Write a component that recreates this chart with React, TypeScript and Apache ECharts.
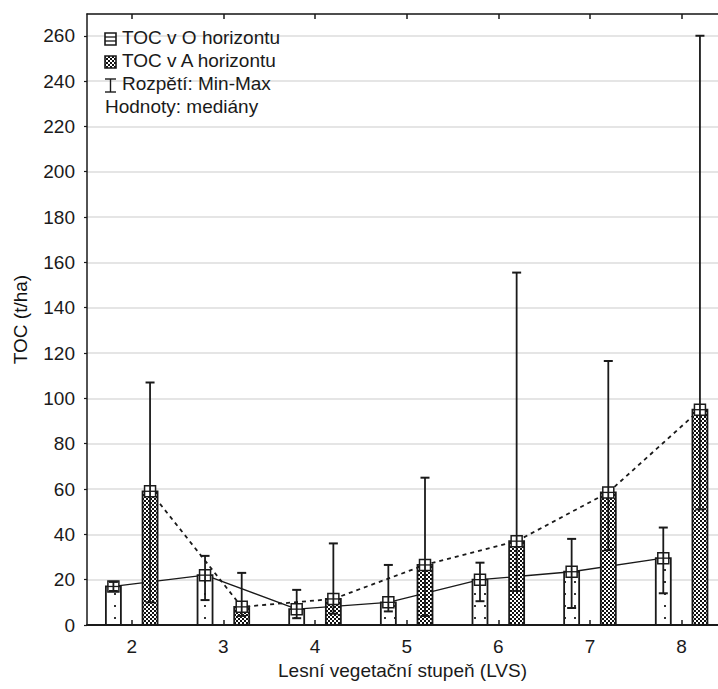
import React, { useEffect, useRef } from "react";
import * as echarts from "echarts";

// ---- data ----
const categories = [2, 3, 4, 5, 6, 7, 8];
const oMedian = [17, 22, 7, 10, 20, 23.5, 29.5];
const oMin = [15, 11, 3, 6, 10.5, 7.5, 14];
const oMax = [19, 30.5, 15.5, 26.5, 27.5, 38, 43];
const aMedian = [59, 8, 11.5, 26.5, 37, 58.5, 95];
const aMin = [10, 4, 5, 4, 15, 33, 51];
const aMax = [107, 23, 36, 65, 155.5, 116.5, 260];

const legendLabels = ["TOC v O horizontu", "TOC v A horizontu", "Rozpětí: Min-Max", "Hodnoty: mediány"];
const xTitle = "Lesní vegetační stupeň (LVS)";
const yTitle = "TOC (t/ha)";

const FONT = "'Liberation Sans', Arial, sans-serif";
const INK = "#1a1a1a";
const OFFSET = 0.2;

function makeChecker(): HTMLCanvasElement {
  const c = document.createElement("canvas");
  c.width = 4;
  c.height = 4;
  const ctx = c.getContext("2d")!;
  ctx.fillStyle = "#ffffff";
  ctx.fillRect(0, 0, 4, 4);
  ctx.fillStyle = "#111111";
  ctx.fillRect(0, 0, 2, 2);
  ctx.fillRect(2, 2, 2, 2);
  return c;
}

function makeDots(): HTMLCanvasElement {
  const c = document.createElement("canvas");
  c.width = 10;
  c.height = 12;
  const ctx = c.getContext("2d")!;
  ctx.fillStyle = "#ffffff";
  ctx.fillRect(0, 0, 10, 12);
  ctx.fillStyle = "#333333";
  ctx.fillRect(4, 5, 2, 2);
  return c;
}

export default function App() {
  const ref = useRef<HTMLDivElement>(null);

  useEffect(() => {
    if (!ref.current) return;
    const chart = echarts.init(ref.current, null, { renderer: "svg" });
    const checker = makeChecker();
    const dots = makeDots();
    const checkerFill: any = { image: checker, repeat: "repeat", imageWidth: 4, imageHeight: 4 };
    const dotsFill: any = { image: dots, repeat: "repeat", imageWidth: 10, imageHeight: 12 };

    const makeRender = (offset: number, fill: any) => (params: any, api: any) => {
      const xv = api.value(0) + offset;
      const med = api.value(1);
      const lo = api.value(2);
      const hi = api.value(3);
      const [cx, cy] = api.coord([xv, med]);
      const [, y0] = api.coord([xv, 0]);
      const [, yLo] = api.coord([xv, lo]);
      const [, yHi] = api.coord([xv, hi]);
      const bw = 15;
      const cap = 9;
      const ms = 11;
      return {
        type: "group",
        children: [
          {
            type: "rect",
            shape: { x: cx - bw / 2, y: cy, width: bw, height: y0 - cy },
            style: { fill, stroke: INK, lineWidth: 1.8 },
          },
          {
            type: "rect",
            shape: { x: cx - ms / 2, y: cy - ms / 2, width: ms, height: ms },
            style: { fill: "#ffffff", stroke: INK, lineWidth: 1.5 },
          },
          {
            type: "line",
            shape: { x1: cx - ms / 2, y1: cy, x2: cx + ms / 2, y2: cy },
            style: { stroke: INK, lineWidth: 1.3 },
          },
          {
            type: "line",
            shape: { x1: cx, y1: yHi, x2: cx, y2: yLo },
            style: { stroke: INK, lineWidth: 1.8 },
          },
          {
            type: "line",
            shape: { x1: cx - cap / 2, y1: yHi, x2: cx + cap / 2, y2: yHi },
            style: { stroke: INK, lineWidth: 2 },
          },
          {
            type: "line",
            shape: { x1: cx - cap / 2, y1: yLo, x2: cx + cap / 2, y2: yLo },
            style: { stroke: INK, lineWidth: 2 },
          },
        ],
      };
    };

    const oData = categories.map((c, i) => [c, oMedian[i], oMin[i], oMax[i]]);
    const aData = categories.map((c, i) => [c, aMedian[i], aMin[i], aMax[i]]);

    const textStyle = { fill: INK, font: `19px ${FONT}` };
    const lx = 105;
    const rows = [39, 62, 85, 108];

    const option: any = {
      animation: false,
      backgroundColor: "#ffffff",
      grid: { left: 87, right: 0, top: 14, bottom: 64, outerBoundsMode: "none" },
      xAxis: [
        {
          type: "value",
          min: 1.512,
          max: 8.397,
          position: "bottom",
          name: xTitle,
          nameLocation: "middle",
          nameGap: 29,
          nameTextStyle: { fontFamily: FONT, fontSize: 19, color: INK },
          axisLine: { show: true, onZero: false, lineStyle: { color: INK, width: 2 } },
          axisTick: { show: true, inside: true, length: 5, customValues: categories, lineStyle: { color: INK, width: 1.5 } },
          axisLabel: { customValues: categories, margin: 12, fontFamily: FONT, fontSize: 19, color: INK },
          splitLine: { show: false },
        },
        {
          type: "value",
          min: 1.512,
          max: 8.397,
          position: "top",
          axisLine: { show: true, onZero: false, lineStyle: { color: INK, width: 1.5 } },
          axisTick: { show: true, inside: true, length: 5, customValues: categories, lineStyle: { color: INK, width: 1.5 } },
          axisLabel: { show: false },
          splitLine: { show: false },
        },
      ],
      yAxis: {
        type: "value",
        min: 0,
        max: 269.6,
        interval: 20,
        name: yTitle,
        nameLocation: "middle",
        nameGap: 57,
        nameTextStyle: { fontFamily: FONT, fontSize: 19, color: "#111111" },
        axisLine: { show: true, onZero: false, lineStyle: { color: INK, width: 1.5 } },
        axisTick: { show: true, inside: false, length: 3, lineStyle: { color: INK, width: 1.2 } },
        axisLabel: {
          margin: 12,
          fontFamily: FONT,
          fontSize: 19,
          color: INK,
          showMaxLabel: false,
          formatter: (v: number) => (Math.abs(v % 20) < 1e-6 ? String(v) : ""),
        },
        splitLine: { show: true, lineStyle: { color: "#dcdcdc", width: 1.5 } },
      },
      series: [
        {
          type: "line",
          z: 1,
          symbol: "none",
          data: categories.map((c, i) => [c - OFFSET, oMedian[i]]),
          lineStyle: { color: INK, width: 1.3, type: "solid" },
        },
        {
          type: "line",
          z: 1,
          symbol: "none",
          data: categories.map((c, i) => [c + OFFSET, aMedian[i]]),
          lineStyle: { color: INK, width: 1.8, type: [4, 4] },
        },
        {
          type: "custom",
          z: 3,
          renderItem: makeRender(-OFFSET, dotsFill),
          encode: { x: 0, y: 1 },
          data: oData,
        },
        {
          type: "custom",
          z: 3,
          renderItem: makeRender(OFFSET, checkerFill),
          encode: { x: 0, y: 1 },
          data: aData,
        },
      ],
      graphic: [
        // O horizon icon
        { type: "rect", z: 10, shape: { x: lx, y: rows[0] - 6, width: 11, height: 12 }, style: { fill: "#fff", stroke: INK, lineWidth: 1.6 } },
        { type: "line", z: 10, shape: { x1: lx, y1: rows[0] - 2, x2: lx + 11, y2: rows[0] - 2 }, style: { stroke: INK, lineWidth: 1.3 } },
        { type: "line", z: 10, shape: { x1: lx, y1: rows[0] + 2, x2: lx + 11, y2: rows[0] + 2 }, style: { stroke: INK, lineWidth: 1.3 } },
        { type: "text", z: 10, left: 122, top: rows[0] - 11, style: { text: legendLabels[0], ...textStyle } },
        // A horizon icon
        { type: "rect", z: 10, shape: { x: lx, y: rows[1] - 6, width: 11, height: 12 }, style: { fill: checkerFill, stroke: INK, lineWidth: 1.6 } },
        { type: "text", z: 10, left: 122, top: rows[1] - 11, style: { text: legendLabels[1], ...textStyle } },
        // range icon
        { type: "line", z: 10, shape: { x1: lx + 5.5, y1: rows[2] - 6, x2: lx + 5.5, y2: rows[2] + 7 }, style: { stroke: INK, lineWidth: 1.4 } },
        { type: "line", z: 10, shape: { x1: lx, y1: rows[2] - 6, x2: lx + 11, y2: rows[2] - 6 }, style: { stroke: INK, lineWidth: 1.4 } },
        { type: "line", z: 10, shape: { x1: lx, y1: rows[2] + 7, x2: lx + 11, y2: rows[2] + 7 }, style: { stroke: INK, lineWidth: 1.4 } },
        { type: "text", z: 10, left: 122, top: rows[2] - 11, style: { text: legendLabels[2], ...textStyle } },
        { type: "text", z: 10, left: lx, top: rows[3] - 11, style: { text: legendLabels[3], ...textStyle } },
      ],
    };

    chart.setOption(option);
    return () => chart.dispose();
  }, []);

  return (
    <div
      ref={ref}
      style={{ position: "fixed", left: 0, top: 0, width: 718, height: 689, background: "#fff" }}
    />
  );
}
